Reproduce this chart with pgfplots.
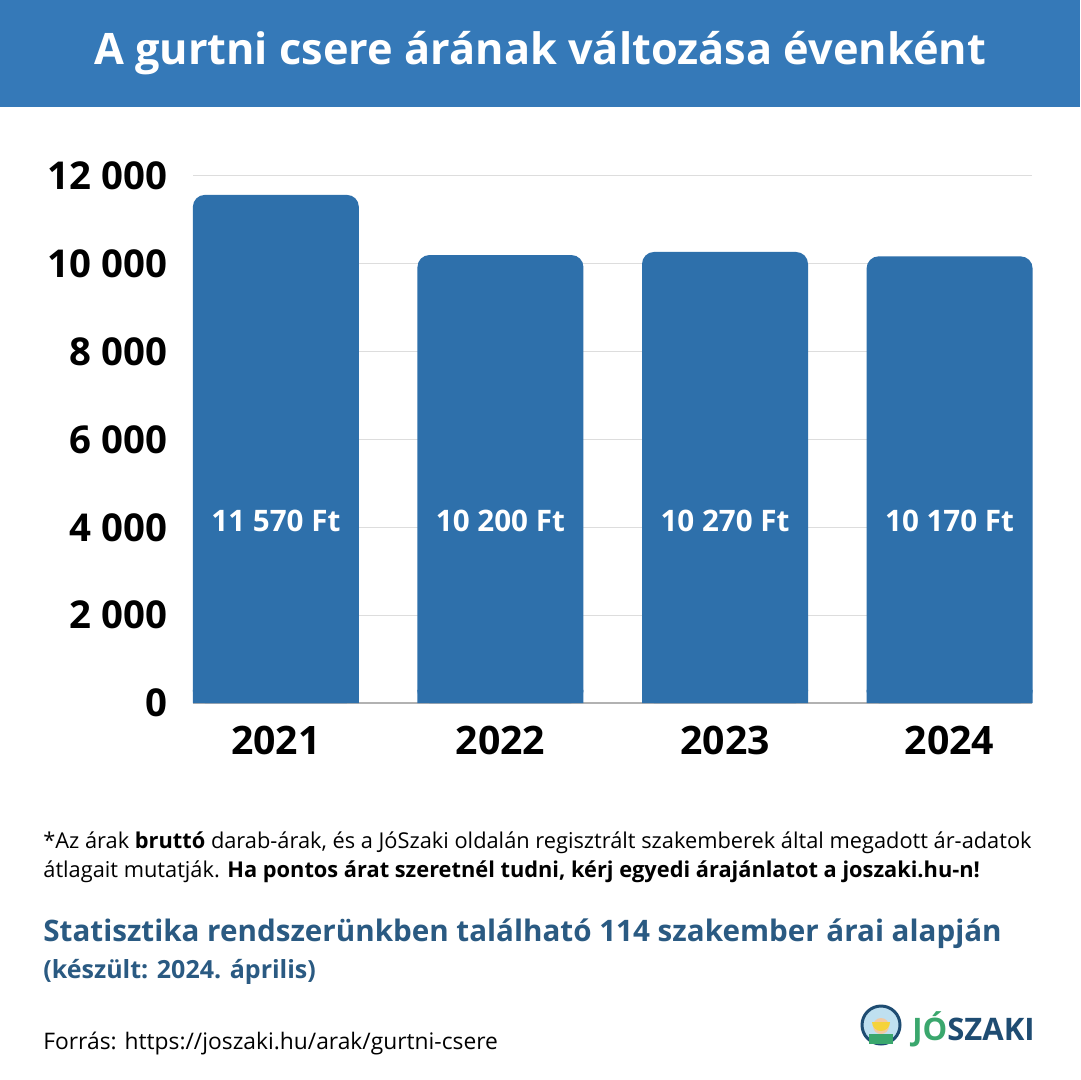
\documentclass[border=0pt]{standalone}
\usepackage{pgfplots}
\pgfplotsset{compat=1.18}
\usepackage{fontspec}
\setmainfont{Open Sans}
\definecolor{banner}{HTML}{3579B8}
\definecolor{barc}{HTML}{2E70AB}
\definecolor{foot}{HTML}{2A5A82}
\definecolor{logogreen}{HTML}{3AA76D}
\definecolor{logoblue}{HTML}{1E4C72}
\definecolor{gridc}{HTML}{DDDDDD}
\definecolor{logobg}{HTML}{BFE0F0}
\definecolor{skin}{HTML}{F2C9A0}
\definecolor{helmet}{HTML}{F5D33A}
\begin{document}
\begin{tikzpicture}
\begin{scope}[x=0.5pt,y=-0.5pt]
\fill[white] (0,0) rectangle (1080,1080);
\fill[banner] (0,0) rectangle (1080,107);
\node[white,font=\fontsize{21.65}{25}\selectfont\bfseries] at (540,53) {A gurtni csere árának változása évenként};
\end{scope}
\begin{axis}[
  at={(96.5pt,-351.5pt)}, anchor=south west,
  scale only axis, width=419.5pt, height=263.5pt,
  xmin=-0.369, xmax=3.367, ymin=0, ymax=12000,
  scaled y ticks=false,
  ytick={0,2000,4000,6000,8000,10000,12000},
  yticklabels={0,2 000,4 000,6 000,8 000,10 000,12 000},
  xtick={0,1,2,3}, xticklabels={2021,2022,2023,2024},
  axis x line*=bottom, axis y line*=left,
  x axis line style={draw=gray!60, line width=0.6pt, -},
  y axis line style={draw=none},
  ymajorgrids, grid style={draw=gridc, line width=0.5pt},
  major tick length=0pt,
  yticklabel style={font=\fontsize{19.2}{21}\selectfont\bfseries, xshift=-9.5pt},
  xticklabel style={font=\fontsize{19.6}{22}\selectfont\bfseries, yshift=-8pt},
  clip=false,
]
\addplot[ybar, bar width=83pt, bar shift=0pt, fill=barc, draw=none]
  coordinates {(0,300) (1,300) (2,300) (3,300)};
\addplot[ybar, bar width=83pt, bar shift=0pt, fill=barc, draw=none, rounded corners=6pt]
  coordinates {(0,11570) (1,10200) (2,10270) (3,10170)};
\node[white, font=\fontsize{14.8}{17}\selectfont\bfseries] at (axis cs:0,4144) {11 570 Ft};
\node[white, font=\fontsize{14.8}{17}\selectfont\bfseries] at (axis cs:1,4144) {10 200 Ft};
\node[white, font=\fontsize{14.8}{17}\selectfont\bfseries] at (axis cs:2,4144) {10 270 Ft};
\node[white, font=\fontsize{14.8}{17}\selectfont\bfseries] at (axis cs:3,4144) {10 170 Ft};
\end{axis}
\begin{scope}[x=0.5pt,y=-0.5pt]
\node[anchor=base west, inner sep=0pt, font=\fontsize{10.9}{13}\selectfont] at (43,848) {*Az árak \textbf{bruttó} darab-árak, és a JóSzaki oldalán regisztrált szakemberek által megadott ár-adatok};
\node[anchor=base west, inner sep=0pt, font=\fontsize{10.9}{13}\selectfont] at (43,877) {átlagait mutatják. \textbf{Ha pontos árat szeretnél tudni, kérj egyedi árajánlatot a joszaki.hu-n!}};
\node[anchor=base west, inner sep=0pt, text=foot, font=\fontsize{14.8}{17}\selectfont\bfseries] at (43,941) {Statisztika rendszerünkben található 114 szakember árai alapján};
\node[anchor=base west, inner sep=0pt, text=foot, font=\fontsize{12.5}{15}\selectfont\bfseries] at (43,978) {(készült: 2024. április)};
\node[anchor=base west, inner sep=0pt, font=\fontsize{11.4}{13}\selectfont] at (43,1049) {Forrás: https://joszaki.hu/arak/gurtni-csere};
% logo
\fill[logobg] (881,1025) circle (19);
\draw[logoblue, line width=1.5pt] (881,1025) circle (19);
\fill[logogreen] (869,1044) rectangle (893,1034);
\fill[skin] (881,1026) circle (8);
\fill[helmet] (872,1022) arc (180:0:9) -- cycle;
\node[anchor=base west, inner sep=0pt, font=\fontsize{15.5}{17}\selectfont\bfseries] at (912,1040) {\textcolor{logogreen}{JÓ}\textcolor{logoblue}{SZAKI}};
\end{scope}
\end{tikzpicture}
\end{document}
